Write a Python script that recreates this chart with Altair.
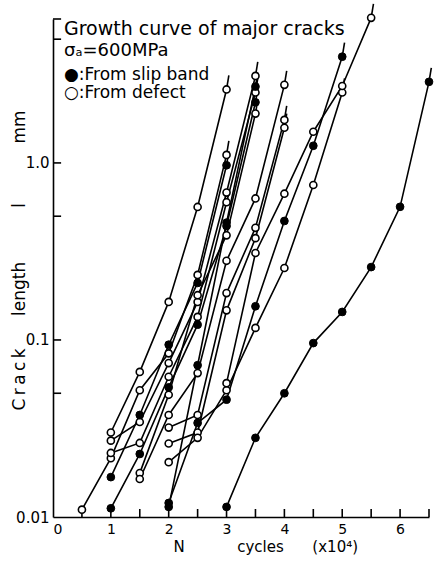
import altair as alt
import pandas as pd

# crack growth curves: N (x10^4 cycles) and crack length (mm)
c01_n = [1, 1.5, 2, 2.5, 3];             c01_l = [0.030, 0.066, 0.164, 0.564, 2.6]
c02_n = [0.5, 1, 1.5, 2, 2.5, 3];        c02_l = [0.011, 0.0215, 0.052, 0.084, 0.233, 1.11]
c03_n = [1, 1.5, 2, 2.5, 3];             c03_l = [0.0168, 0.0377, 0.094, 0.21, 0.97]
c04_n = [1, 1.5, 2, 2.5, 3, 3.5];        c04_l = [0.027, 0.0344, 0.074, 0.164, 0.68, 3.1]
c05_n = [1, 1.5, 2, 2.5, 3, 3.5];        c05_l = [0.023, 0.0262, 0.062, 0.135, 0.60, 2.5]
c06_n = [1, 1.5, 2, 2.5, 3, 3.5];        c06_l = [0.0112, 0.0227, 0.054, 0.122, 0.44, 2.2]
c07_n = [1.5, 2, 2.5, 3, 3.5];           c07_l = [0.0177, 0.049, 0.179, 0.39, 1.9]
c08_n = [1.5, 2, 2.5, 3, 3.5, 4];        c08_l = [0.0164, 0.0377, 0.065, 0.28, 0.63, 2.76]
c09_n = [2, 2.5, 3, 3.5, 4];             c09_l = [0.032, 0.0377, 0.184, 0.43, 1.75]
c10_n = [2, 2.5, 3, 3.5, 4];             c10_l = [0.026, 0.030, 0.147, 0.376, 1.58]
c11_n = [2, 2.5, 3, 3.5];                c11_l = [0.0114, 0.072, 0.46, 2.7]
c12_n = [2, 2.5, 3, 3.5, 4, 4.5, 5];     c12_l = [0.012, 0.034, 0.046, 0.155, 0.47, 1.25, 3.98]
c13_n = [2, 2.5, 3, 3.5, 4, 4.5, 5];     c13_l = [0.0204, 0.028, 0.052, 0.117, 0.255, 0.75, 2.5]
c14_n = [3, 3.5, 4, 4.5, 5, 5.5];        c14_l = [0.057, 0.31, 0.67, 1.50, 2.72, 6.6]
c15_n = [3, 3.5, 4, 4.5, 5, 5.5, 6, 6.5]; c15_l = [0.0114, 0.028, 0.05, 0.096, 0.144, 0.258, 0.565, 2.87]

curve_n = [c01_n, c02_n, c03_n, c04_n, c05_n, c06_n, c07_n, c08_n,
           c09_n, c10_n, c11_n, c12_n, c13_n, c14_n, c15_n]
curve_l = [c01_l, c02_l, c03_l, c04_l, c05_l, c06_l, c07_l, c08_l,
           c09_l, c10_l, c11_l, c12_l, c13_l, c14_l, c15_l]
curve_kind = ["defect", "defect", "slip", "defect", "defect", "slip", "defect", "defect",
              "defect", "defect", "slip", "slip", "defect", "defect", "slip"]

x_ticks = [0.5, 1, 1.5, 2, 2.5, 3, 3.5, 4, 4.5, 5, 5.5, 6, 6.5]
y_ticks = [0.05, 0.1, 0.5, 1, 5, 6.5]
y_labels = [0.01, 0.1, 1]

rows, tails = [], []
for i, (ns, ls, k) in enumerate(zip(curve_n, curve_l, curve_kind)):
    for n, l in zip(ns, ls):
        rows.append({"curve": i, "N": n, "L": l, "kind": k})
    tails.append({"curve": i, "N": ns[-1], "L": ls[-1], "N2": ns[-1] + 0.04, "L2": ls[-1] * 1.2})
df = pd.DataFrame(rows)
df_tail = pd.DataFrame(tails)

X_DOM = [0, 6.5]
Y_DOM = [0.01, 6.5]
FONT = "DejaVu Sans"
SP = "\u00a0"
TH = "\u2009"

xs = alt.Scale(domain=X_DOM, nice=False, zero=False)
ys = alt.Scale(type="log", domain=Y_DOM, nice=False)

x_axis = alt.Axis(values=[0, 1, 2, 3, 4, 5, 6], ticks=False, grid=False, domainColor="black",
                  domainWidth=1.6, labelFontSize=14, labelFont=FONT, labelColor="black",
                  labelPadding=5, format="d",
                  title="N" + SP * 11 + "cycles" + SP * 6 + "(x10\u2074)",
                  titleFont=FONT, titleFontSize=15, titleFontWeight="normal", titleColor="black",
                  titleAnchor="start", titleAlign="left", titleX=120, titleY=34,
                  titleBaseline="alphabetic")
y_axis = alt.Axis(values=y_labels, ticks=False, grid=False, domainColor="black", domainWidth=1.6,
                  labelFontSize=15, labelFont=FONT, labelColor="black", labelPadding=4,
                  labelExpr="datum.value < 0.05 ? '0.01' : (datum.value < 0.5 ? '0.1' : '1.0')",
                  title=TH.join("Crack") + SP * 6 + "length" + SP * 10 + "l" + SP * 11 + "mm",
                  titleFont=FONT, titleFontSize=17, titleFontWeight="normal", titleColor="black",
                  titleX=-29, titleY=241, titleBaseline="alphabetic")

base = alt.Chart(df)

lines = base.mark_line(color="black", strokeWidth=1.6).encode(
    x=alt.X("N:Q", scale=xs, axis=x_axis),
    y=alt.Y("L:Q", scale=ys, axis=y_axis),
    detail="curve:N",
    order="N:Q",
)

tail_rules = alt.Chart(df_tail).mark_rule(color="black", strokeWidth=1.6).encode(
    x=alt.X("N:Q", scale=xs), x2="N2:Q",
    y=alt.Y("L:Q", scale=ys), y2="L2:Q",
)

open_pts = base.transform_filter(alt.datum.kind == "defect").mark_point(
    shape="circle", filled=True, fill="white", stroke="black", strokeWidth=1.6, size=50, opacity=1
).encode(x=alt.X("N:Q", scale=xs), y=alt.Y("L:Q", scale=ys))

filled_pts = base.transform_filter(alt.datum.kind == "slip").mark_point(
    shape="circle", filled=True, fill="black", stroke="black", strokeWidth=1, size=60, opacity=1
).encode(x=alt.X("N:Q", scale=xs), y=alt.Y("L:Q", scale=ys))

xt_df = pd.DataFrame({"N": x_ticks})
xt_df["L"] = Y_DOM[0]
xt_df["L2"] = Y_DOM[0] * 1.11
x_tick_rules = alt.Chart(xt_df).mark_rule(color="black", strokeWidth=1.6).encode(
    x=alt.X("N:Q", scale=xs), y=alt.Y("L:Q", scale=ys), y2="L2:Q")

yt_df = pd.DataFrame({"L": y_ticks})
yt_df["N"] = X_DOM[0]
yt_df["N2"] = X_DOM[0] + 0.14
y_tick_rules = alt.Chart(yt_df).mark_rule(color="black", strokeWidth=1.6).encode(
    y=alt.Y("L:Q", scale=ys), x=alt.X("N:Q", scale=xs), x2="N2:Q")

notes = [
    ("Growth curve of major cracks", 35, 19),
    ("\u03c3\u2090=600MPa", 56, 18),
    ("\u25cf:From slip band", 80, 17),
    ("\u25cb:From defect", 98, 17),
]
note_layers = [
    alt.Chart(pd.DataFrame({"t": [t]})).mark_text(
        align="left", baseline="alphabetic", font=FONT, fontSize=fs, color="black"
    ).encode(text="t:N", x=alt.value(11), y=alt.value(yy - 19))
    for t, yy, fs in notes
]

chart = alt.layer(lines, tail_rules, x_tick_rules, y_tick_rules, open_pts, filled_pts,
                  *note_layers).properties(
    width=376, height=498,
    autosize=alt.AutoSizeParams(type="none"),
    padding={"left": 53, "top": 19, "right": 8, "bottom": 44},
    background="white",
).configure_view(stroke=None)

chart.save("out.html", embed_options={"renderer": "svg", "actions": False})
